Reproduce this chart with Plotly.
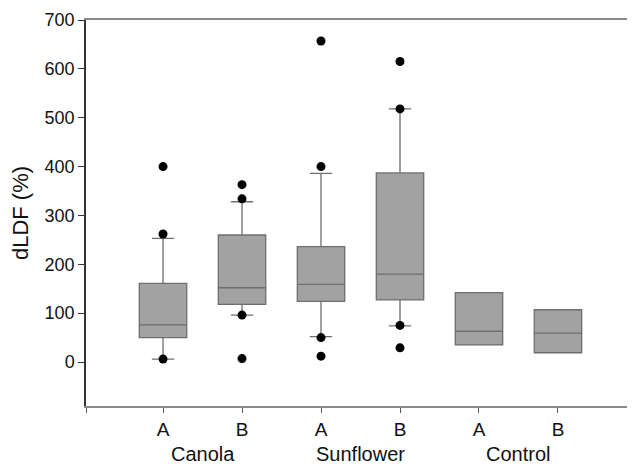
import plotly.graph_objects as go

# ---- data ----
groups = ["Canola", "Sunflower", "Control"]
sub_labels = ["A", "B", "A", "B", "A", "B"]
positions = [1, 2, 3, 4, 5, 6]

q1 = [50, 118, 124, 127, 35, 19]
median = [76, 152, 159, 180, 63, 59]
q3 = [161, 260, 236, 387, 142, 107]
lower_whisker = [6, 96, 52, 74, 35, 19]
upper_whisker = [253, 328, 386, 518, 142, 107]

outlier_pos = [1, 1, 1, 2, 2, 2, 2, 3, 3, 3, 3, 4, 4, 4, 4]
outlier_val = [400, 262, 6, 363, 334, 96, 7, 657, 400, 50, 12, 615, 518, 75, 29]

y_ticks = [0, 100, 200, 300, 400, 500, 600, 700]

FONT = "Liberation Sans, Arial, sans-serif"

fig = go.Figure()
fig.add_trace(go.Box(
    x=positions,
    q1=q1, median=median, q3=q3,
    lowerfence=lower_whisker, upperfence=upper_whisker,
    width=0.6,
    whiskerwidth=0.47,
    fillcolor="#a2a2a2",
    line=dict(color="#6e6e6e", width=1.3),
    boxpoints=False,
    showlegend=False,
))
fig.add_trace(go.Scatter(
    x=outlier_pos, y=outlier_val, mode="markers",
    marker=dict(color="black", size=9),
    showlegend=False,
))

for i, g in enumerate(groups):
    fig.add_annotation(
        x=(positions[2 * i] + positions[2 * i + 1]) / 2, xref="x",
        y=0, yref="paper", yanchor="middle", yshift=-48,
        text=g, showarrow=False,
        font=dict(family=FONT, size=20, color="#111"),
    )

# page body has an 8px default margin, so the figure is offset by 8px
fig.update_layout(
    width=627, height=458,
    margin=dict(l=78, r=0, t=12, b=60),
    paper_bgcolor="white", plot_bgcolor="white",
    font=dict(family=FONT, size=17, color="#111"),
    xaxis=dict(
        range=[0.025, 6.975],
        tickvals=[0.025] + positions,
        ticktext=[""] + sub_labels,
        ticks="outside", ticklen=5, tickcolor="#555",
        showline=True, linecolor="#8a8a8a", linewidth=2, mirror=True,
        showgrid=False, zeroline=False,
        tickfont=dict(size=19),
    ),
    yaxis=dict(
        range=[-90, 700],
        tickvals=y_ticks,
        ticks="outside", ticklen=6, tickcolor="#333",
        showline=True, linecolor="#333", linewidth=1.5,
        showgrid=False, zeroline=False,
        tickfont=dict(size=18),
        title=dict(text="dLDF (%)", font=dict(size=22), standoff=10),
    ),
)

fig.write_html("out.html")
